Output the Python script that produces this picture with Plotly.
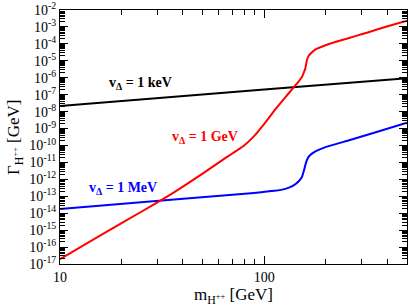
import math
import plotly.graph_objects as go

# ---- data ----
m_black = [10, 100, 500]
g_black = [2.14e-8, 2.04e-7, 9.33e-7]

m_blue = [10, 31.62, 63.10, 89.13, 112.2, 125.9, 139.3, 147.9, 153.1, 156.7,
          160.3, 164.8, 171.8, 181.1, 199.5, 263.0, 354.8, 500]
g_blue = [1.78e-14, 5.62e-14, 1.12e-13, 1.58e-13, 2.09e-13, 2.63e-13, 4.37e-13,
          7.94e-13, 1.41e-12, 3.55e-12, 1.0e-11, 2.14e-11, 3.39e-11, 4.90e-11,
          7.94e-11, 2.09e-10, 6.31e-10, 2.19e-9]

m_red = [10, 15.85, 25.12, 31.62, 39.81, 50.12, 63.10, 79.43, 89.13, 100, 107.2,
         114.8, 125.9, 139.3, 147.9, 153.1, 156.7, 158.9, 161.8, 165.2, 171.4,
         179.9, 188.4, 210.9, 236.0, 281.8, 324.3, 398.1, 500]
g_red = [1.95e-17, 5.0e-16, 1.26e-14, 6.3e-14, 3.55e-13, 2.24e-12, 1.51e-11,
         9.55e-11, 3.55e-10, 1.91e-9, 5.62e-9, 1.66e-8, 6.31e-8, 2.69e-7, 6.31e-7,
         1.15e-6, 2.24e-6, 3.55e-6, 1.12e-5, 2.0e-5, 3.16e-5, 5.01e-5, 6.31e-5,
         1.05e-4, 1.58e-4, 2.95e-4, 4.90e-4, 1.07e-3, 2.34e-3]

y_exps = list(range(-17, -1))
y_tickvals = [10.0 ** e for e in y_exps]
y_ticktext = ["10<sup>%d</sup>" % e for e in y_exps]
x_tickvals = [10, 100]
x_ticktext = ["10", "100"]

labels = [
    ("v<sub>Δ</sub> = 1 keV", "black", 17.0, 4.5e-7),
    ("v<sub>Δ</sub> = 1 GeV", "red", 34.6, 2.8e-10),
    ("v<sub>Δ</sub> = 1 MeV", "blue", 13.5, 2.9e-13),
]

SERIF = "Liberation Serif"

fig = go.Figure()
for xs, ys, col in [(m_black, g_black, "black"), (m_blue, g_blue, "blue"), (m_red, g_red, "red")]:
    fig.add_trace(go.Scatter(x=xs, y=ys, mode="lines",
                             line=dict(color=col, width=2, shape="spline", smoothing=0.4),
                             showlegend=False, hoverinfo="skip"))

for txt, col, xv, yv in labels:
    fig.add_annotation(x=math.log10(xv), y=math.log10(yv),
                       xref="x", yref="y", text=txt, showarrow=False,
                       xanchor="left", yanchor="middle",
                       font=dict(family=SERIF, size=14, color=col, weight="bold"))

axis_common = dict(showline=True, linecolor="black", linewidth=1, mirror="allticks",
                   ticks="inside", ticklen=8, tickcolor="black", tickwidth=1,
                   showgrid=False, zeroline=False, automargin=False,
                   tickfont=dict(family=SERIF, size=14, color="black"))

fig.update_xaxes(type="log", range=[1, 2.69897], tickvals=x_tickvals, ticktext=x_ticktext,
                 minor=dict(ticks="inside", ticklen=5, tickcolor="black", dtick="D1", showgrid=False),
                 **axis_common)
fig.update_yaxes(type="log", range=[-17, -2], tickvals=y_tickvals + [1e-2], ticktext=y_ticktext + ["10<sup>-2</sup>"],
                 minor=dict(ticks="inside", ticklen=5, tickcolor="black", dtick="D1", showgrid=False),
                 **axis_common)

fig.add_annotation(x=0.5, y=0, xref="paper", yref="paper", yshift=-19,
                   text="m<sub>H<sup>++</sup></sub> [GeV]", showarrow=False,
                   xanchor="center", yanchor="top",
                   font=dict(family=SERIF, size=17, color="black"))
fig.add_annotation(x=0, y=0.5, xref="paper", yref="paper", xshift=-45,
                   text="Γ<sub>H<sup>++</sup></sub> [GeV]", showarrow=False, textangle=-90,
                   xanchor="center", yanchor="middle",
                   font=dict(family=SERIF, size=17, color="black"))

fig.update_layout(width=409, height=306, margin=dict(l=60, r=2, t=10, b=42),
                  paper_bgcolor="white", plot_bgcolor="white")

fig.write_html("out.html", config={"displayModeBar": False},
               post_script="document.body.style.margin='0';")
